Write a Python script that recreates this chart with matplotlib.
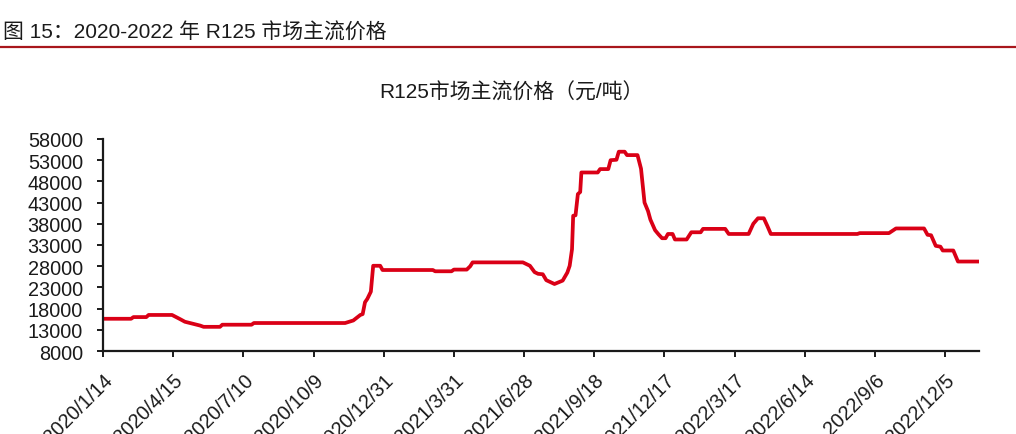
import matplotlib
matplotlib.use("Agg")
import matplotlib.pyplot as plt

plt.rcParams['font.family'] = ['Liberation Sans', 'Noto Sans CJK SC', 'DejaVu Sans']

# observation index (trading-day category) and price knots (元/吨)
obs_idx = [0, 24, 26, 37, 39, 59, 66, 70, 83, 86, 100, 102, 127, 129, 207,
           214, 220, 222, 224, 226, 229, 231, 237, 239, 282, 284, 298, 300,
           311, 314, 316, 359, 365, 369, 372, 376, 379, 386, 393, 397, 399,
           401, 402, 404, 406, 408, 409, 423, 425, 432, 434, 439, 441, 446,
           448, 457, 460, 463, 466, 468, 472, 475, 478, 481, 483, 487, 489,
           499, 503, 511, 513, 532, 535, 552, 556, 560, 565, 568, 571, 645,
           647, 672, 678, 702, 705, 708, 712, 716, 718, 727, 731, 748]
price = [15600, 15600, 16000, 16000, 16500, 16500, 15500, 14900, 14000, 13700,
         13700, 14200, 14200, 14600, 14600, 15200, 16500, 16700, 19500, 20300,
         22000, 28100, 28100, 27100, 27100, 26800, 26800, 27200, 27200, 28000,
         28900, 28900, 28100, 26600, 26200, 26100, 24700, 23800, 24600, 26500,
         28100, 32000, 39900, 40000, 45000, 45500, 50100, 50100, 50900, 50900,
         53000, 53100, 55000, 55000, 54200, 54200, 51000, 43000, 41000, 39000,
         36500, 35500, 34600, 34600, 35600, 35600, 34300, 34300, 36000, 36000,
         36800, 36800, 35600, 35600, 38000, 39300, 39300, 37500, 35600, 35600,
         35800, 35800, 36900, 36900, 35400, 35300, 32800, 32600, 31700, 31700,
         29100, 29100]

tick_idx = [0, 60, 120, 180, 240, 300, 360, 420, 480, 540, 600, 660, 720]
tick_labels = ['2020/1/14', '2020/4/15', '2020/7/10', '2020/10/9', '2020/12/31',
               '2021/3/31', '2021/6/28', '2021/9/18', '2021/12/17', '2022/3/17',
               '2022/6/14', '2022/9/6', '2022/12/5']
y_ticks = list(range(8000, 58001, 5000))

fig = plt.figure(figsize=(10.16, 4.35), dpi=100)
ax = fig.add_axes([0.1014, 0.1908, 0.8622, 0.4874])

ax.plot(obs_idx, price, color='#DA0016', linewidth=2.7, solid_joinstyle='round')

ax.set_xlim(0, 749)
ax.set_ylim(8000, 58000)
ax.set_yticks(y_ticks)
ax.set_yticklabels([str(v) for v in y_ticks])
ax.set_xticks(tick_idx)
ax.set_xticklabels(tick_labels, rotation=45, ha='right', rotation_mode='anchor')

for side in ['top', 'right']:
    ax.spines[side].set_visible(False)
for side in ['left', 'bottom']:
    ax.spines[side].set_linewidth(1.6)
    ax.spines[side].set_color('#1a1a1a')
ax.tick_params(axis='y', direction='out', length=4.5, width=1.4, pad=10,
               labelsize=14.3, colors='#1a1a1a')
ax.tick_params(axis='x', direction='out', length=4.5, width=1.4, pad=9,
               labelsize=14.3, colors='#1a1a1a')

# header and rule
fig.text(0.003, 0.924, '图 15：2020-2022 年 R125 市场主流价格', fontsize=15,
         color='#1a1a1a', va='center', ha='left')
fig.add_artist(plt.Line2D([0, 1], [0.889, 0.889], color='#A8161C', linewidth=1.6))

fig.text(0.503, 0.786, 'R125市场主流价格（元/吨）', fontsize=15,
         color='#1a1a1a', va='center', ha='center')

fig.savefig('out.png', dpi=100)
